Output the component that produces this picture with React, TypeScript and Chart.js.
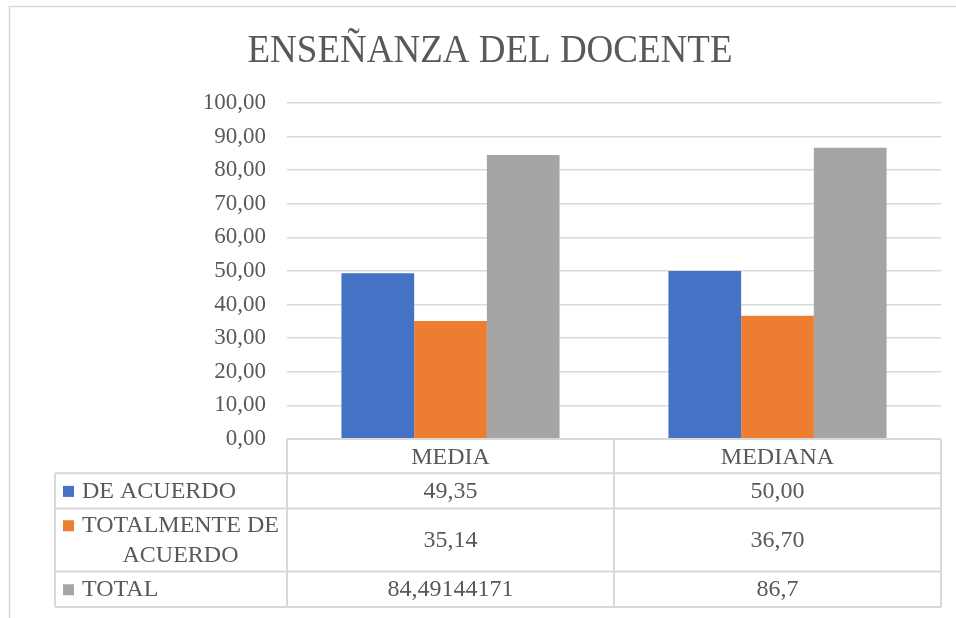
import React, { useEffect, useRef } from "react";
import { Chart, registerables } from "chart.js";

Chart.register(...registerables);

const TITLE = "ENSEÑANZA DEL DOCENTE";
const categories = ["MEDIA", "MEDIANA"];
const seriesLabels = [["DE ACUERDO"], ["TOTALMENTE DE", "ACUERDO"], ["TOTAL"]];
const deAcuerdo = [49.35, 50.0];
const totalmenteDeAcuerdo = [35.14, 36.7];
const total = [84.49144171, 86.7];
const tableDecimals: (number | null)[] = [2, 2, null];
const seriesColors = ["#4472C4", "#ED7D31", "#A5A5A5"];
const yMin = 0;
const yMax = 100;
const yStep = 10;

const FONT = '"Liberation Serif", "Times New Roman", serif';
const TEXT = "#595959";
const LINE = "#d9d9d9";

const fmt = (v: number, d: number | null) =>
  (d === null ? String(v) : v.toFixed(d)).replace(".", ",");

const tablePlugin = {
  id: "excelTable",
  beforeDraw(chart: any) {
    const ctx = chart.ctx;
    ctx.save();
    ctx.strokeStyle = LINE;
    ctx.lineWidth = 1.5;
    ctx.beginPath();
    ctx.moveTo(9.5, 618);
    ctx.lineTo(9.5, 6.5);
    ctx.lineTo(956, 6.5);
    ctx.stroke();
    // title
    ctx.fillStyle = TEXT;
    ctx.font = `37px ${FONT}`;
    ctx.textAlign = "center";
    ctx.textBaseline = "alphabetic";
    ctx.translate(490, 62);
    ctx.scale(1, 1.08);
    ctx.fillText(TITLE, 0, 0);
    ctx.restore();
  },
  afterDraw(chart: any) {
    const ctx = chart.ctx;
    const { left, right, bottom } = chart.chartArea;
    const xs = chart.scales.x;
    const centers = categories.map((_, i) => xs.getPixelForValue(i));
    const mid = (centers[0] + centers[1]) / 2;
    const colX = [55, left, mid, right];
    const rowH = [34.3, 35.2, 63, 35.5];
    const rowY = [bottom];
    rowH.forEach((h) => rowY.push(rowY[rowY.length - 1] + h));

    ctx.save();
    ctx.strokeStyle = LINE;
    ctx.lineWidth = 2;
    ctx.beginPath();
    // header top
    ctx.moveTo(left, rowY[0]);
    ctx.lineTo(right, rowY[0]);
    for (let r = 1; r < rowY.length; r++) {
      ctx.moveTo(colX[0], rowY[r]);
      ctx.lineTo(right, rowY[r]);
    }
    ctx.moveTo(colX[0], rowY[1]);
    ctx.lineTo(colX[0], rowY[rowY.length - 1]);
    for (let c = 1; c < colX.length; c++) {
      ctx.moveTo(colX[c], rowY[0]);
      ctx.lineTo(colX[c], rowY[rowY.length - 1]);
    }
    ctx.stroke();

    ctx.fillStyle = TEXT;
    ctx.font = `24px ${FONT}`;
    ctx.textBaseline = "alphabetic";
    // header
    ctx.textAlign = "center";
    categories.forEach((c, i) => {
      const cy = (rowY[0] + rowY[1]) / 2;
      ctx.fillText(c, (colX[i + 1] + colX[i + 2]) / 2, cy + 7.5);
    });
    const datasets = chart.data.datasets;
    datasets.forEach((ds: any, s: number) => {
      const top = rowY[s + 1];
      const bot = rowY[s + 2];
      const cy = (top + bot) / 2;
      const lines = seriesLabels[s];
      const lineGap = 29.5;
      const firstBase = cy + 7 - ((lines.length - 1) * lineGap) / 2;
      // legend key
      ctx.fillStyle = seriesColors[s];
      ctx.fillRect(63, firstBase - 12, 11, 11);
      ctx.fillStyle = TEXT;
      const textX = 82;
      const w0 = ctx.measureText(lines[0]).width;
      lines.forEach((ln, k) => {
        if (k === 0) {
          ctx.textAlign = "left";
          ctx.fillText(ln, textX, firstBase);
        } else {
          ctx.textAlign = "center";
          ctx.fillText(ln, textX + w0 / 2, firstBase + k * lineGap);
        }
      });
      ctx.textAlign = "center";
      ds.data.forEach((v: number, i: number) => {
        ctx.fillText(fmt(v, tableDecimals[s]), (colX[i + 1] + colX[i + 2]) / 2, cy + 7);
      });
    });
    ctx.restore();
  },
};

export default function App() {
  const ref = useRef<HTMLCanvasElement | null>(null);
  useEffect(() => {
    if (!ref.current) return;
    const chart = new Chart(ref.current, {
      type: "bar",
      data: {
        labels: categories,
        datasets: [
          { label: seriesLabels[0].join(" "), data: deAcuerdo, backgroundColor: seriesColors[0] },
          { label: seriesLabels[1].join(" "), data: totalmenteDeAcuerdo, backgroundColor: seriesColors[1] },
          { label: seriesLabels[2].join(" "), data: total, backgroundColor: seriesColors[2] },
        ],
      },
      options: {
        responsive: false,
        animation: false,
        devicePixelRatio: 1,
        layout: { padding: { left: 0, top: 103, right: 15, bottom: 179 } },
        datasets: { bar: { categoryPercentage: 0.667, barPercentage: 1 } },
        plugins: {
          legend: { display: false },
          title: { display: false },
          tooltip: { enabled: false },
        },
        scales: {
          x: { display: false },
          y: {
            min: yMin,
            max: yMax,
            afterFit: (scale: any) => {
              scale.width = 287;
            },
            ticks: {
              stepSize: yStep,
              padding: 21,
              color: TEXT,
              font: { family: FONT, size: 23 },
              callback: (v: any) => fmt(Number(v), 2),
            },
            grid: { color: LINE, lineWidth: 1.5, drawTicks: false },
            border: { display: false },
          },
        },
      },
      plugins: [tablePlugin],
    });
    return () => chart.destroy();
  }, []);
  return (
    <div style={{ position: "absolute", left: 0, top: 0, width: 956, height: 618, background: "#fff" }}>
      <canvas ref={ref} width={956} height={618} style={{ width: 956, height: 618, display: "block" }} />
    </div>
  );
}
